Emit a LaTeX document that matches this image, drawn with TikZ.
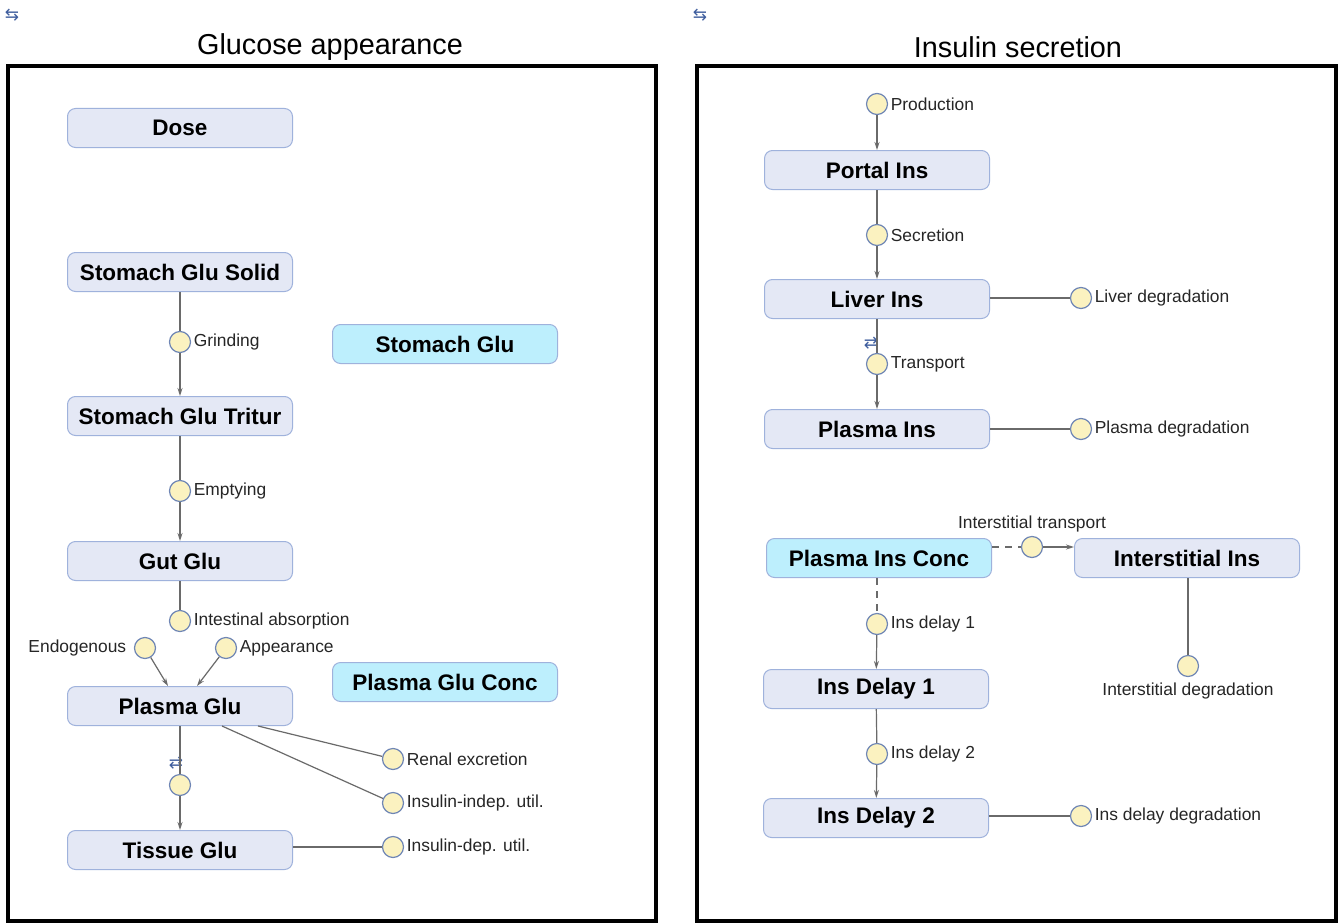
\documentclass[tikz,border=0pt]{standalone}
\usepackage{fontspec}
\setmainfont{Liberation Sans}
\newfontfamily\dejavu{DejaVu Sans}
\usetikzlibrary{arrows.meta}
\definecolor{boxfill}{HTML}{E4E8F5}
\definecolor{boxedge}{HTML}{9FB2DC}
\definecolor{cyanfill}{HTML}{BDEFFD}
\definecolor{circfill}{HTML}{FBF2C0}
\definecolor{circedge}{HTML}{6F86B5}
\definecolor{linecol}{HTML}{6A6A6A}
\definecolor{iconcol}{HTML}{3F5E9E}
\begin{document}
\begin{tikzpicture}[x=1pt,y=-1pt,
 stock/.style={draw=boxedge, fill=boxfill, rounded corners=8pt, minimum width=225pt, minimum height=39pt, line width=1pt, font=\fontsize{22.5}{25}\selectfont\bfseries, inner sep=0pt},
 conc/.style={stock, fill=cyanfill},
 flow/.style={circle, draw=circedge, fill=circfill, minimum size=21pt, inner sep=0pt, line width=1.2pt},
 lbl/.style={font=\fontsize{17.4}{20}\selectfont, text=black!85, inner sep=2.5pt},
 ttl/.style={font=\fontsize{28.8}{32}\selectfont, inner sep=0pt},
 frame/.style={draw=black, line width=4pt},
 conn/.style={draw=linecol, line width=1.2pt},
 arr/.style={conn, -{Stealth[length=8pt,width=5pt]}},
 dconn/.style={conn, dash pattern=on 7pt off 6pt},
 icon/.style={text=iconcol, font=\dejavu\fontsize{17}{17}\selectfont, inner sep=0pt}
]
\useasboundingbox (0,0) rectangle (1340,923);
\fill[white] (0,0) rectangle (1340,923);

% icons and titles
\node[icon] (ic1) at (12,15) {⇆};
\node[icon] (ic2) at (700,15) {⇆};
\node[ttl] (t1) at (330,47) {Glucose appearance};
\node[ttl] (t2) at (1018,47) {Insulin secretion};

% frames
\draw[frame] (8,66) rectangle (656,921);
\draw[frame] (697,66) rectangle (1336,921);

% ---------- left panel ----------
\node[stock] (dose) at (180,128) {Dose};
\node[stock] (ssolid) at (180,272) {Stomach Glu Solid};
\node[conc] (sglu) at (445,344) {Stomach Glu};
\node[flow] (grind) at (180,342) {};
\node[lbl, anchor=west] (grindl) at (grind.east) {Grinding};
\node[stock] (stritur) at (180,416) {Stomach Glu Tritur};
\node[flow] (empty) at (180,491) {};
\node[lbl, anchor=west] (emptyl) at (empty.east) {Emptying};
\node[stock] (gut) at (180,561) {Gut Glu};
\node[flow] (intabs) at (180,621) {};
\node[lbl, anchor=west] (intabsl) at (intabs.east) {Intestinal absorption};
\node[flow] (endo) at (145,648) {};
\node[lbl, anchor=east] (endol) at ([xshift=-5pt]endo.west) {Endogenous};
\node[flow] (appear) at (226,648) {};
\node[lbl, anchor=west] (appearl) at (appear.east) {Appearance};
\node[stock] (pglu) at (180,706) {Plasma Glu};
\node[conc] (pgluc) at (445,682) {Plasma Glu Conc};
\node[icon] (ic3) at (176,763) {⇄};
\node[flow] (tflow) at (180,785) {};
\node[stock] (tglu) at (180,850) {Tissue Glu};
\node[flow] (renal) at (393,759) {};
\node[lbl, anchor=west] (renall) at (renal.east) {Renal excretion};
\node[flow] (indep) at (393,803) {};
\node[lbl, anchor=west] (indepl) at (indep.east) {Insulin-indep. util.};
\node[flow] (dep) at (393,847) {};
\node[lbl, anchor=west] (depl) at (dep.east) {Insulin-dep. util.};

\draw[conn] (ssolid) -- (grind);
\draw[arr] (grind) -- (stritur);
\draw[conn] (stritur) -- (empty);
\draw[arr] (empty) -- (gut);
\draw[conn] (gut) -- (intabs);
\draw[arr] (endo) -- ([xshift=-12pt]pglu.north);
\draw[arr] (appear) -- ([xshift=17pt]pglu.north);
\draw[conn] (pglu) -- (tflow);
\draw[arr] (tflow) -- (tglu);
\draw[conn] ([xshift=78pt]pglu.south) -- (renal);
\draw[conn] ([xshift=42pt]pglu.south) -- (indep);
\draw[conn] (tglu.east |- dep) -- (dep);

% ---------- right panel ----------
\node[flow] (prod) at (877,104) {};
\node[lbl, anchor=west] (prodl) at (prod.east) {Production};
\node[stock] (portal) at (877,170) {Portal Ins};
\node[flow] (secr) at (877,235) {};
\node[lbl, anchor=west] (secrl) at (secr.east) {Secretion};
\node[stock] (liver) at (877,299) {Liver Ins};
\node[flow] (liverdeg) at (1081,298) {};
\node[lbl, anchor=west] (liverdegl) at (liverdeg.east) {Liver degradation};
\node[icon] (ic4) at (871,343) {⇄};
\node[flow] (transp) at (877,364) {};
\node[lbl, anchor=west] (transpl) at (transp.east) {Transport};
\node[stock] (pins) at (877,429) {Plasma Ins};
\node[flow] (pdeg) at (1081,429) {};
\node[lbl, anchor=west] (pdegl) at (pdeg.east) {Plasma degradation};
\node[conc] (pinsc) at (879,558) {Plasma Ins Conc};
\node[flow] (itr) at (1032,547) {};
\node[lbl, anchor=south] (itrl) at ([yshift=1pt]itr.north) {Interstitial transport};
\node[stock] (intins) at (1187,558) {Interstitial Ins};
\node[flow] (intdeg) at (1188,666) {};
\node[lbl, anchor=north] (intdegl) at ([yshift=-3pt]intdeg.south) {Interstitial degradation};
\node[flow] (d1flow) at (877,624) {};
\node[lbl, anchor=west] (d1flowl) at (d1flow.east) {Ins delay 1};
\node[stock] (d1) at (876,689) {Ins Delay 1};
\node[flow] (d2flow) at (877,754) {};
\node[lbl, anchor=west] (d2flowl) at (d2flow.east) {Ins delay 2};
\node[stock] (d2) at (876,818) {Ins Delay 2};
\node[flow] (ddeg) at (1081,816) {};
\node[lbl, anchor=west] (ddegl) at (ddeg.east) {Ins delay degradation};

\draw[arr] (prod) -- (portal);
\draw[conn] (portal) -- (secr);
\draw[arr] (secr) -- (liver);
\draw[conn] (liver.east |- liverdeg) -- (liverdeg);
\draw[conn] (liver) -- (transp);
\draw[arr] (transp) -- (pins);
\draw[conn] (pins.east |- pdeg) -- (pdeg);
\draw[dconn] (pinsc.east |- itr) -- (itr);
\draw[arr] (itr) -- (intins.west |- itr);
\draw[conn] (intins.south -| intdeg) -- (intdeg);
\draw[dconn] (pinsc.south -| d1flow) -- (d1flow);
\draw[arr] (d1flow) -- (d1);
\draw[conn] (d1) -- (d2flow);
\draw[arr] (d2flow) -- (d2);
\draw[conn] (d2.east |- ddeg) -- (ddeg);
\end{tikzpicture}
\end{document}
